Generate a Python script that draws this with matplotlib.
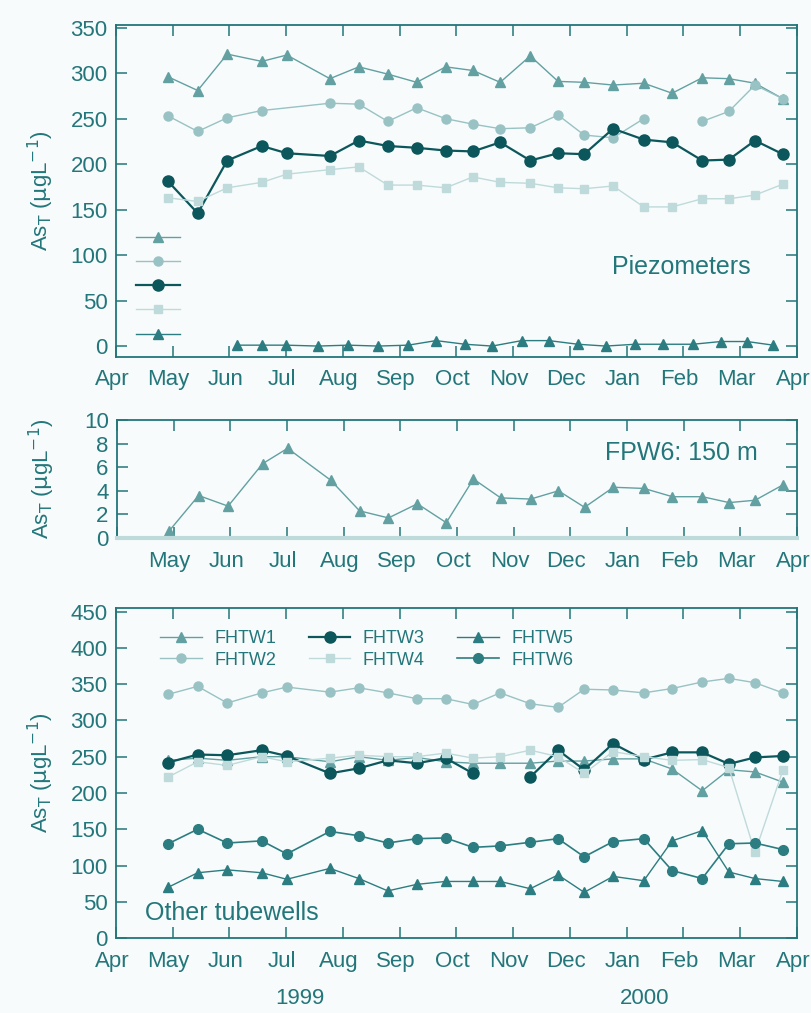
import numpy as np
import matplotlib.pyplot as plt
import matplotlib.transforms as mtransforms
from matplotlib.lines import Line2D

plt.rcParams['font.family'] = ['Liberation Sans', 'DejaVu Sans']

months = ['Apr', 'May', 'Jun', 'Jul', 'Aug', 'Sep', 'Oct', 'Nov', 'Dec',
          'Jan', 'Feb', 'Mar', 'Apr']

# sampling times, in months after 1 April 1999
t = [0.92, 1.44, 1.96, 2.57, 3.01, 3.77, 4.28, 4.79, 5.30, 5.81, 6.29,
     6.77, 7.30, 7.79, 8.25, 8.76, 9.30, 9.80, 10.33, 10.80, 11.26, 11.75]
t_p2 = [0.92, 1.44, 1.96, 2.57, 3.77, 4.28, 4.79, 5.30, 5.81, 6.29,
        6.77, 7.30, 7.79, 8.25, 8.76, 9.30, 9.80, 10.33, 10.80, 11.26, 11.75]
t_p5 = [2.14, 2.57, 3.00, 3.56, 4.09, 4.62, 5.15, 5.64, 6.15, 6.63,
        7.15, 7.63, 8.14, 8.63, 9.15, 9.64, 10.17, 10.66, 11.12, 11.58]

nan = np.nan

# piezometers
p1 = [296, 281, 321, 313, 320, 294, 307, 299, 290, 307, 303, 290, 319, 291,
      290, 287, 289, 278, 295, 294, 289, 272]
p2 = [253, 236, 251, 259, 267, 266, 247, 262, 250, 244, 239, 240, 254, 232,
      229, 250, nan, 247, 258, 287, 272]
p3 = [181, 146, 204, 220, 212, 209, 226, 220, 218, 215, 214, 224, 204, 212,
      211, 239, 227, 224, 204, 205, 226, 211]
p4 = [163, 159, 174, 180, 189, 194, 197, 177, 177, 174, 186, 180, 179, 174,
      173, 176, 153, 153, 162, 162, 166, 178]
p5 = [1, 1, 1, 0, 1, 0, 1, 6, 2, 0, 6, 6, 2, 0, 2, 2, 2, 5, 5, 1]

# FPW6, 150 m
fpw6 = [0.6, 3.6, 2.7, 6.3, 7.6, 4.9, 2.3, 1.7, 2.9, 1.3, 5.0, 3.4, 3.3, 4.0,
        2.6, 4.3, 4.2, 3.5, 3.5, 3.0, 3.2, 4.5]

# other tubewells
fhtw1 = [245, 248, 245, 250, 250, 243, 250, 245, 249, 243, 241, 241, 241, 244,
         244, 247, 247, 233, 203, 232, 229, 215]
fhtw2 = [336, 347, 324, 338, 346, 339, 345, 338, 330, 330, 322, 338, 323, 318,
         343, 342, 338, 344, 353, 358, 352, 338]
fhtw3 = [242, 253, 252, 259, 251, 227, 234, 245, 241, 248, 227, nan, 222, 259,
         232, 268, 246, 256, 256, 240, 249, 251]
fhtw4 = [222, 243, 238, 250, 243, 248, 252, 250, 250, 255, 248, 250, 259, 250,
         227, 257, 250, 245, 246, 235, 118, 231]
fhtw5 = [70, 90, 94, 90, 81, 96, 82, 65, 74, 78, 78, 78, 68, 87, 63, 85, 79,
         134, 148, 91, 82, 78]
fhtw6 = [130, 150, 131, 134, 116, 147, 141, 131, 137, 138, 125, 127, 132, 137,
         112, 133, 137, 93, 82, 130, 131, 122]

bg = '#f8fbfb'
ink = '#23767a'
dark = '#0c575c'
teal = '#2c7d81'
mid = '#62a0a2'
light = '#98c2c3'
pale = '#bfdada'

st1 = dict(color=mid, marker='^', ms=6.5, lw=1.0)
st2 = dict(color=light, marker='o', ms=6.5, lw=1.0)
st3 = dict(color=dark, marker='o', ms=8, lw=1.6)
st4 = dict(color=pale, marker='s', ms=6, lw=1.0)
st5 = dict(color=teal, marker='^', ms=6.5, lw=1.0)
st6 = dict(color=teal, marker='o', ms=7, lw=1.2)

fig = plt.figure(figsize=(8.11, 10.13), dpi=100, facecolor=bg)
ax1 = fig.add_axes([0.143, 0.6476, 0.8397, 0.3277])
ax2 = fig.add_axes([0.1443, 0.4689, 0.8385, 0.1165])
ax3 = fig.add_axes([0.143, 0.0740, 0.8397, 0.3258])

ylab = r'As$_\mathrm{T}$ ($\mathrm{\mu}$gL$^{-1}$)'
shift = mtransforms.ScaledTranslation(-4 / 100, 0, fig.dpi_scale_trans)

for ax in (ax1, ax2, ax3):
    ax.set_facecolor(bg)
    for s in ax.spines.values():
        s.set_color(ink)
        s.set_linewidth(1.3)
    ax.tick_params(direction='in', length=8, width=1.1, top=True, right=True,
                   color=ink, labelcolor=ink, labelsize=16, pad=6)
    ax.tick_params(axis='x', pad=9)
    ax.set_xlim(0, 12)
    ax.set_xticks(range(13))
    ax.set_xticklabels(months)
    ax.set_ylabel(ylab, color=ink, fontsize=16)
    ax.yaxis.set_label_coords(-0.088, 0.5)

# top panel
ax1.plot(t, p1, **st1)
ax1.plot(t_p2, p2, **st2)
ax1.plot(t, p3, **st3)
ax1.plot(t, p4, **st4)
ax1.plot(t_p5, p5, **st5)
ax1.set_ylim(-12, 353)
ax1.set_yticks(range(0, 351, 50))
ax1.text(0.83, 0.271, 'Piezometers', transform=ax1.transAxes, color=ink,
         fontsize=18, ha='center', va='center')
h1 = [Line2D([], [], **s) for s in (st1, st2, st3, st4, st5)]
ax1.legend(h1, [''] * 5, loc='upper left', bbox_to_anchor=(0.03, 0.38),
           frameon=False, handlelength=2.5, handletextpad=0, borderpad=0,
           borderaxespad=0, labelspacing=0.52, fontsize=12.5)

# middle panel
ax2.plot(t, fpw6, **st1)
ax2.set_ylim(0, 10)
ax2.set_yticks(range(0, 11, 2))
ax2.set_xticklabels([''] + months[1:])
ax2.spines['bottom'].set_color(pale)
ax2.spines['bottom'].set_linewidth(3)
ax2.text(0.83, 0.72, 'FPW6: 150 m', transform=ax2.transAxes, color=ink,
         fontsize=18, ha='center', va='center')

# bottom panel
ax3.plot(t, fhtw1, label='FHTW1', **st1)
ax3.plot(t, fhtw2, label='FHTW2', **st2)
ax3.plot(t, fhtw3, label='FHTW3', **st3)
ax3.plot(t, fhtw4, label='FHTW4', **st4)
ax3.plot(t, fhtw5, label='FHTW5', **st5)
ax3.plot(t, fhtw6, label='FHTW6', **st6)
ax3.set_ylim(0, 455)
ax3.set_yticks(range(0, 451, 50))
ax3.legend(loc='upper left', bbox_to_anchor=(0.065, 0.933), ncol=3,
           frameon=False, fontsize=13, handlelength=2.3, handletextpad=0.7,
           columnspacing=1.8, borderpad=0, borderaxespad=0,
           labelspacing=0.25, labelcolor=ink)
ax3.text(0.043, 0.076, 'Other tubewells', transform=ax3.transAxes, color=ink,
         fontsize=18, ha='left', va='center')
ax3.text(0.27, -0.183, '1999', transform=ax3.transAxes, color=ink,
         fontsize=16, ha='center', va='center')
ax3.text(0.777, -0.183, '2000', transform=ax3.transAxes, color=ink,
         fontsize=16, ha='center', va='center')

for ax in (ax1, ax2, ax3):
    for lab in ax.get_xticklabels():
        lab.set_transform(lab.get_transform() + shift)

fig.savefig('out.png', dpi=100, facecolor=bg)
